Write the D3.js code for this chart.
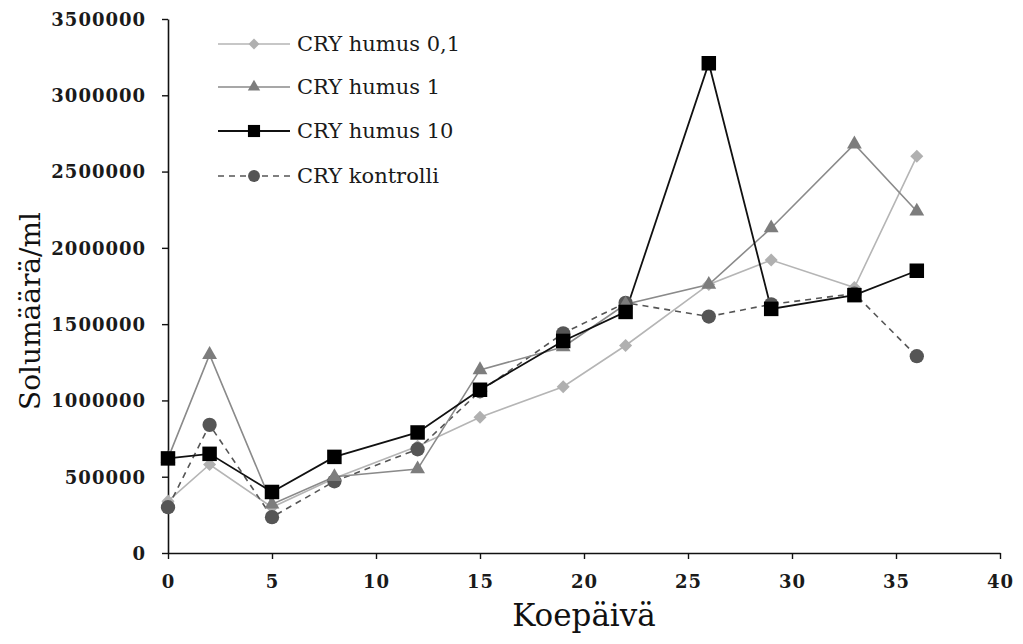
<!DOCTYPE html>
<html><head><meta charset="utf-8">
<script src="https://cdn.jsdelivr.net/npm/d3@7"></script>
<style>body{margin:0;background:#fff}svg{display:block}</style>
</head><body>
<svg id="c" width="1023" height="644"></svg>
<script>
const days = [0, 2, 5, 8, 12, 15, 19, 22, 26, 29, 33, 36];
const humus01 = [340000, 580000, 300000, 490000, 700000, 890000, 1090000, 1360000, 1760000, 1920000, 1740000, 2600000];
const humus1 = [620000, 1300000, 320000, 500000, 550000, 1200000, 1350000, 1630000, 1760000, 2130000, 2680000, 2240000];
const humus10 = [620000, 650000, 400000, 630000, 790000, 1070000, 1390000, 1580000, 3210000, 1600000, 1690000, 1850000];
const kontrolli = [300000, 840000, 235000, 470000, 680000, 1060000, 1440000, 1640000, 1550000, 1630000, 1700000, 1290000];
const seriesNames = ["CRY humus 0,1", "CRY humus 1", "CRY humus 10", "CRY kontrolli"];
const xTicks = [0, 5, 10, 15, 20, 25, 30, 35, 40];
const yTicks = [0, 500000, 1000000, 1500000, 2000000, 2500000, 3000000, 3500000];

const svg = d3.select("#c");
const x = d3.scaleLinear().domain([0, 40]).range([168, 1000]);
const y = d3.scaleLinear().domain([0, 3500000]).range([553, 19]);

const serif = "'DejaVu Serif', serif";
// axes
const gx = svg.append("g").attr("transform", `translate(0,${y(0)})`)
  .call(d3.axisBottom(x).tickValues(xTicks).tickSize(6).tickSizeOuter(0));
const gy = svg.append("g").attr("transform", `translate(${x(0)},0)`)
  .call(d3.axisLeft(y).tickValues(yTicks).tickFormat(d3.format("d")).tickSize(6).tickSizeOuter(0));
[gx, gy].forEach(g => {
  g.attr("font-family", serif);
  g.select(".domain").attr("stroke", "#111").attr("stroke-width", 1.6);
  g.selectAll(".tick line").attr("stroke", "#111").attr("stroke-width", 1.4);
  g.selectAll("text").attr("font-family", serif).attr("font-weight", "bold")
    .attr("font-size", 18).attr("letter-spacing", 1).attr("fill", "#1a1a1a");
});
gx.selectAll("text").attr("y", 29).attr("dy", "0.35em");
gy.selectAll("text").attr("x", -22).attr("dy", "0.35em");

// axis titles
svg.append("text").attr("x", 584).attr("y", 626).attr("text-anchor", "middle")
  .attr("font-family", serif).attr("font-size", 31).attr("fill", "#111").text("Koepäivä");
svg.append("text").attr("transform", "translate(40,311) rotate(-90)").attr("text-anchor", "middle")
  .attr("font-family", serif).attr("font-size", 28).attr("fill", "#111").text("Solumäärä/ml");

const series = [
  {name: seriesNames[0], values: humus01, color: "#b5b5b5", mcolor: "#b0b0b0", dash: null, sym: d3.symbolSquare, rot: 45, size: 85, width: 1.6},
  {name: seriesNames[1], values: humus1, color: "#8a8a8a", mcolor: "#7d7d7d", dash: null, sym: d3.symbolTriangle, rot: 0, size: 95, width: 1.6},
  {name: seriesNames[2], values: humus10, color: "#111", mcolor: "#000", dash: null, sym: d3.symbolSquare, rot: 0, size: 210, width: 1.8},
  {name: seriesNames[3], values: kontrolli, color: "#555", mcolor: "#555", dash: "6,5", sym: d3.symbolCircle, rot: 0, size: 160, width: 1.6}
];

const line = d3.line().x((d, i) => x(days[i])).y(d => y(d));
const drawOrder = [0, 3, 1, 2];
drawOrder.forEach(k => {
  const s = series[k];
  svg.append("path").datum(s.values).attr("d", line).attr("fill", "none")
    .attr("stroke", s.color).attr("stroke-width", s.width)
    .attr("stroke-dasharray", s.dash);
});
drawOrder.forEach(k => {
  const s = series[k];
  svg.append("g").selectAll("path").data(s.values).join("path")
    .attr("transform", (d, i) => `translate(${x(days[i])},${y(d)}) rotate(${s.rot})`)
    .attr("d", d3.symbol().type(s.sym).size(s.size)).attr("fill", s.mcolor);
});

// legend
const lg = svg.append("g");
const legendY = [44, 87, 131, 176];
series.forEach((s, i) => {
  const yy = legendY[i];
  lg.append("line").attr("x1", 218).attr("x2", 290).attr("y1", yy).attr("y2", yy)
    .attr("stroke", s.color).attr("stroke-width", s.width).attr("stroke-dasharray", s.dash);
  lg.append("path").attr("transform", `translate(254,${yy}) rotate(${s.rot})`)
    .attr("d", d3.symbol().type(s.sym).size(s.size * 0.7)).attr("fill", s.mcolor);
  lg.append("text").attr("x", 297).attr("y", yy).attr("dy", "0.35em")
    .attr("font-family", serif).attr("font-size", 21).attr("fill", "#1a1a1a").text(s.name);
});
</script>
</body></html>
